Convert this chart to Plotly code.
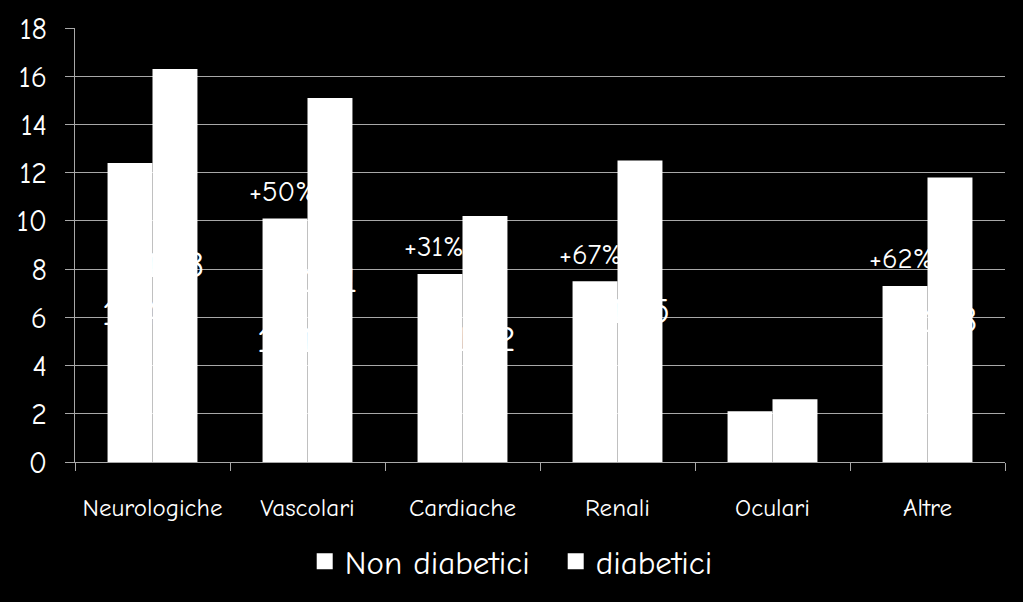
import plotly.graph_objects as go

categories = ["Neurologiche", "Vascolari", "Cardiache", "Renali", "Oculari", "Altre"]
non_diabetici = [12.4, 10.1, 7.8, 7.5, 2.1, 7.3]
diabetici = [16.3, 15.1, 10.2, 12.5, 2.6, 11.8]
increments = ["", "+50%", "+31%", "+67%", "", "+62%"]
y_ticks = [0, 2, 4, 6, 8, 10, 12, 14, 16, 18]
series_names = ["Non diabetici", "diabetici"]

FONT = "Comic Sans MS, Comic Neue, Lato, sans-serif"

def fmt(v):
    return f"{v:.1f}".replace(".", ",")

fig = go.Figure()
for name, vals in zip(series_names, (non_diabetici, diabetici)):
    fig.add_trace(go.Bar(
        x=categories, y=vals, name=name, showlegend=False, legendgroup=name,
        marker=dict(color="white", line=dict(width=0)),
    ))
# legend entries with larger square symbols
for name in series_names:
    fig.add_trace(go.Scatter(
        x=[None], y=[None], mode="markers", name=name, legendgroup=name,
        marker=dict(symbol="square", size=20, color="white"),
        showlegend=True,
    ))

# value labels (white, centred in each bar)
for cat, nd, d in zip(categories, non_diabetici, diabetici):
    for val, shift in ((nd, -22), (d, 22)):
        fig.add_annotation(
            x=cat, y=val / 2, xref="x", yref="y", text=fmt(val), showarrow=False,
            xanchor="center", yanchor="middle", xshift=shift,
            font=dict(color="white", size=37, family=FONT),
        )

for cat, inc, nd in zip(categories, increments, non_diabetici):
    if inc:
        fig.add_annotation(
            x=cat, y=nd, xref="x", yref="y", text=inc, showarrow=False,
            xanchor="left", yanchor="middle", xshift=-61, yshift=27,
            font=dict(color="white", size=29, family=FONT),
        )

fig.update_layout(
    width=1023, height=602,
    paper_bgcolor="black", plot_bgcolor="black",
    margin=dict(l=75, r=18, t=28, b=137),
    barmode="group", bargap=0.42, bargroupgap=0,
    font=dict(family=FONT, color="white"),
    showlegend=True,
    legend=dict(
        orientation="h", x=0.247, xanchor="left", y=-0.229, yanchor="middle",
        font=dict(size=33, color="white", family=FONT),
        itemsizing="trace", bgcolor="rgba(0,0,0,0)",
        entrywidth=206, entrywidthmode="pixels",
    ),
)
fig.update_xaxes(
    showline=True, linecolor="#a8a8a8", linewidth=1,
    ticks="outside", tickson="boundaries", ticklen=8, tickcolor="#a8a8a8",
    tickfont=dict(size=25, color="white", family=FONT),
    ticklabelstandoff=23, automargin=False,
    showgrid=False,
)
fig.update_yaxes(
    range=[0, 18], tickvals=y_ticks,
    showline=True, linecolor="#a8a8a8", linewidth=1,
    ticks="outside", ticklen=9, tickcolor="#a8a8a8",
    showgrid=True, gridcolor="#a8a8a8", gridwidth=1,
    tickfont=dict(size=30, color="white", family=FONT),
    ticklabelstandoff=12, automargin=False,
    zeroline=False,
)

fig.write_html("out.html")
